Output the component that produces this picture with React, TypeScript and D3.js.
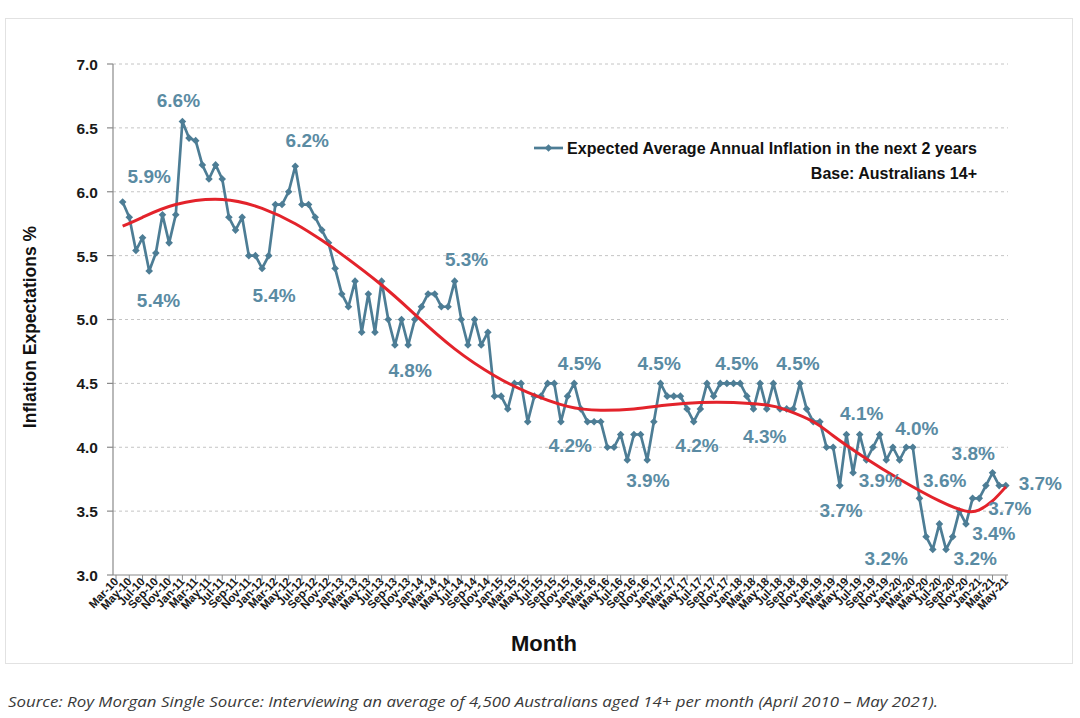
import React from "react";
import * as d3 from "d3";

// x-axis tick labels (every second month, Mar-10 .. May-21)
const tickLabels = [
  "Mar-10", "May-10", "Jul-10", "Sep-10", "Nov-10",
  "Jan-11", "Mar-11", "May-11", "Jul-11", "Sep-11", "Nov-11",
  "Jan-12", "Mar-12", "May-12", "Jul-12", "Sep-12", "Nov-12",
  "Jan-13", "Mar-13", "May-13", "Jul-13", "Sep-13", "Nov-13",
  "Jan-14", "Mar-14", "May-14", "Jul-14", "Sep-14", "Nov-14",
  "Jan-15", "Mar-15", "May-15", "Jul-15", "Sep-15", "Nov-15",
  "Jan-16", "Mar-16", "May-16", "Jul-16", "Sep-16", "Nov-16",
  "Jan-17", "Mar-17", "May-17", "Jul-17", "Sep-17", "Nov-17",
  "Jan-18", "Mar-18", "May-18", "Jul-18", "Sep-18", "Nov-18",
  "Jan-19", "Mar-19", "May-19", "Jul-19", "Sep-19", "Nov-19",
  "Jan-20", "Mar-20", "May-20", "Jul-20", "Sep-20", "Nov-20",
  "Jan-21", "Mar-21", "May-21",
];

// Monthly expected inflation, Apr-10 .. May-21 (month offset 1..134 from Mar-10)
const inflation = [
  5.92, 5.8, 5.54, 5.64, 5.38, 5.52, 5.82, 5.6, 5.82, 6.55,
  6.42, 6.4, 6.21, 6.1, 6.21, 6.1, 5.8, 5.7, 5.8, 5.5,
  5.5, 5.4, 5.5, 5.9, 5.9, 6.0, 6.2, 5.9, 5.9, 5.8,
  5.7, 5.6, 5.4, 5.2, 5.1, 5.3, 4.9, 5.2, 4.9, 5.3,
  5.0, 4.8, 5.0, 4.8, 5.0, 5.1, 5.2, 5.2, 5.1, 5.1,
  5.3, 5.0, 4.8, 5.0, 4.8, 4.9, 4.4, 4.4, 4.3, 4.5,
  4.5, 4.2, 4.4, 4.4, 4.5, 4.5, 4.2, 4.4, 4.5, 4.3,
  4.2, 4.2, 4.2, 4.0, 4.0, 4.1, 3.9, 4.1, 4.1, 3.9,
  4.2, 4.5, 4.4, 4.4, 4.4, 4.3, 4.2, 4.3, 4.5, 4.4,
  4.5, 4.5, 4.5, 4.5, 4.4, 4.3, 4.5, 4.3, 4.5, 4.3,
  4.3, 4.3, 4.5, 4.3, 4.2, 4.2, 4.0, 4.0, 3.7, 4.1,
  3.8, 4.1, 3.9, 4.0, 4.1, 3.9, 4.0, 3.9, 4.0, 4.0,
  3.6, 3.3, 3.2, 3.4, 3.2, 3.3, 3.5, 3.4, 3.6, 3.6,
  3.7, 3.8, 3.7, 3.7,
];

// Trend line at month offsets
const trendMonths = [1, 4, 9, 16, 22, 27, 31, 34, 40, 45, 51, 57, 62, 68, 73, 78, 83, 88, 93, 98, 101, 105, 108, 113, 118, 124, 128, 130, 132, 134];
const trendValues = [5.73, 5.8, 5.9, 5.94, 5.87, 5.75, 5.62, 5.51, 5.27, 5.04, 4.77, 4.56, 4.43, 4.32, 4.29, 4.3, 4.33, 4.35, 4.35, 4.33, 4.29, 4.2, 4.09, 3.91, 3.75, 3.58, 3.5, 3.51, 3.58, 3.69];

// Value call-outs (anchor month offset, anchor value, text)
const calloutMonths = [9.4, 5.0, 6.4, 28.8, 23.8, 52.8, 44.3, 69.8, 68.4, 80.1, 81.8, 87.5, 93.5, 97.7, 102.7, 112.3, 109.2, 115.1, 120.6, 116.0, 124.8, 129.1, 129.4, 139.2, 134.6, 132.2];
const calloutValues = [6.72, 6.12, 5.15, 6.4, 5.19, 5.47, 4.6, 4.66, 4.02, 3.74, 4.66, 4.02, 4.66, 4.09, 4.66, 4.27, 3.51, 3.74, 4.15, 3.13, 3.74, 3.95, 3.13, 3.72, 3.52, 3.33];
const calloutTexts = ["6.6%", "5.9%", "5.4%", "6.2%", "5.4%", "5.3%", "4.8%", "4.5%", "4.2%", "3.9%", "4.5%", "4.2%", "4.5%", "4.3%", "4.5%", "4.1%", "3.7%", "3.9%", "4.0%", "3.2%", "3.6%", "3.8%", "3.2%", "3.7%", "3.7%", "3.4%"];

const yTicks = [3.0, 3.5, 4.0, 4.5, 5.0, 5.5, 6.0, 6.5, 7.0];

const LINE_COLOR = "#4d7d95";
const LABEL_COLOR = "#5a8ba3";
const TREND_COLOR = "#e3232b";
const FONT = "'Liberation Sans', Arial, sans-serif";

const diamondPath = "M0,-3.8L3.8,0L0,3.8L-3.8,0Z";

export default function App() {
  const x = d3.scaleLinear().domain([0, 134]).range([116, 1005.8]);
  const y = d3.scaleLinear().domain([3, 7]).range([575, 64]);

  const dataLine = d3
    .line<number>()
    .x((_, i) => x(i + 1))
    .y((d) => y(d));

  const trendPts: [number, number][] = trendMonths.map((m, i) => [m, trendValues[i]]);
  const trendLine = d3
    .line<[number, number]>()
    .x((d) => x(d[0]))
    .y((d) => y(d[1]))
    .curve(d3.curveNatural);

  const axisLeft = 113;
  const axisRight = 1008;
  const axisBottom = y(3);

  return (
    <svg
      width={1080}
      height={718}
      style={{ position: "absolute", left: 0, top: 0, background: "#fff" }}
      fontFamily={FONT}
    >
      <rect x={0} y={0} width={1080} height={718} fill="#fff" />
      <rect x={5.5} y={18.5} width={1067} height={645} fill="#fff" stroke="#e2e2e2" />

      {/* grid lines */}
      {yTicks.filter((t) => t > 3).map((t) => (
        <line
          key={"g" + t}
          x1={axisLeft}
          x2={axisRight}
          y1={y(t)}
          y2={y(t)}
          stroke="#c4c4c4"
          strokeDasharray="3,3"
          strokeWidth={1}
        />
      ))}

      {/* y axis */}
      <line x1={axisLeft} x2={axisLeft} y1={y(7)} y2={axisBottom} stroke="#8a8a8a" strokeWidth={1.2} />
      {yTicks.map((t) => (
        <g key={"yt" + t}>
          <line x1={axisLeft - 6} x2={axisLeft} y1={y(t)} y2={y(t)} stroke="#8a8a8a" strokeWidth={1.2} />
          <text
            x={98}
            y={y(t)}
            dy="0.38em"
            textAnchor="end"
            fontSize={15.5}
            fontWeight="bold"
            fill="#1a1a1a"
          >
            {d3.format(".1f")(t)}
          </text>
        </g>
      ))}

      {/* x axis */}
      <line x1={axisLeft} x2={axisRight} y1={axisBottom} y2={axisBottom} stroke="#8a8a8a" strokeWidth={1.2} />
      {tickLabels.map((lab, k) => {
        const px = x(k * 2);
        return (
          <g key={"xt" + k}>
            <line x1={px} x2={px} y1={axisBottom} y2={axisBottom + 5} stroke="#8a8a8a" strokeWidth={1} />
            <text
              transform={`translate(${px + 3},${axisBottom + 7}) rotate(-47)`}
              textAnchor="end"
              fontSize={11.5}
              fontWeight="bold"
              fill="#1a1a1a"
            >
              {lab}
            </text>
          </g>
        );
      })}

      {/* axis titles */}
      <text x={544} y={651} textAnchor="middle" fontSize={22} fontWeight="bold" fill="#111">
        Month
      </text>
      <text
        transform="translate(36,327) rotate(-90)"
        textAnchor="middle"
        fontSize={17.5}
        fontWeight="bold"
        fill="#111"
      >
        Inflation Expectations %
      </text>

      {/* data series */}
      <path d={dataLine(inflation) || ""} fill="none" stroke={LINE_COLOR} strokeWidth={2.7} strokeLinejoin="round" />
      {inflation.map((v, i) => (
        <path key={"m" + i} d={diamondPath} transform={`translate(${x(i + 1)},${y(v)})`} fill={LINE_COLOR} />
      ))}

      {/* trend */}
      <path d={trendLine(trendPts) || ""} fill="none" stroke={TREND_COLOR} strokeWidth={3} />

      {/* call-outs */}
      {calloutTexts.map((t, i) => (
        <text
          key={"c" + i}
          x={x(calloutMonths[i])}
          y={y(calloutValues[i])}
          dy="0.36em"
          textAnchor="middle"
          fontSize={19}
          fontWeight="bold"
          fill={LABEL_COLOR}
        >
          {t}
        </text>
      ))}

      {/* legend */}
      <line x1={534} x2={563} y1={148} y2={148} stroke={LINE_COLOR} strokeWidth={2.7} />
      <path d={diamondPath} transform="translate(548.5,148)" fill={LINE_COLOR} />
      <text
        x={567}
        y={153.5}
        fontSize={16}
        fontWeight="bold"
        fill="#111"
        textLength={410}
        lengthAdjust="spacing"
      >
        Expected Average Annual Inflation in the next 2 years
      </text>
      <text x={977} y={179} textAnchor="end" fontSize={16} fontWeight="bold" fill="#111">
        Base: Australians 14+
      </text>

      {/* source */}
      <text
        x={8}
        y={707}
        fontSize={15}
        fontStyle="italic"
        fill="#3a3a3a"
        fontFamily="'Open Sans', sans-serif"
        textLength={930}
        lengthAdjust="spacingAndGlyphs"
      >
        Source: Roy Morgan Single Source: Interviewing an average of 4,500 Australians aged 14+ per month (April 2010 – May 2021).
      </text>
    </svg>
  );
}
